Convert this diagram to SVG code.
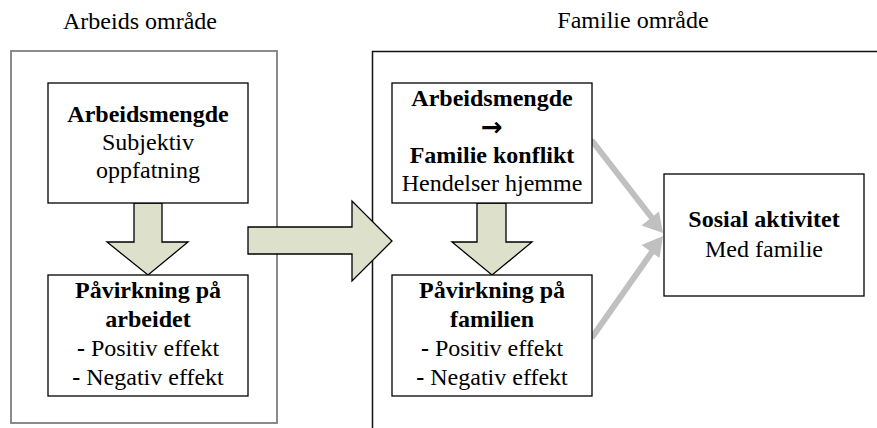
<svg xmlns="http://www.w3.org/2000/svg" width="877" height="428" viewBox="0 0 877 428">
<style>
text{font-size:24px;fill:#000;text-anchor:middle}
.b{font-weight:bold}
.arr{font-family:"DejaVu Sans",sans-serif;font-size:26px;font-weight:bold}
.box{fill:#fff;stroke:#000;stroke-width:1.3}
.blk{fill:#dde0cb;stroke:#000;stroke-width:1.3;stroke-linejoin:miter}
.conn{stroke:#c0c0c0;stroke-width:6;stroke-linecap:round;fill:none}
.head{fill:#c0c0c0}
</style>
<rect width="877" height="428" fill="#fff"/>
<g font-family="Liberation Serif, Times New Roman, DejaVu Serif, serif">
<g id="work-area">
<rect x="11" y="51" width="266" height="372" fill="none" stroke="#7f7f7f" stroke-width="1.8"/>
<text x="140" y="29">Arbeids område</text>
</g>
<g id="family-area">
<path d="M372.5 430 V51.5 H880" fill="none" stroke="#111" stroke-width="1.5"/>
<text x="633" y="28">Familie område</text>
</g>
<g id="connectors">
<polygon class="blk" points="134,203 162,203 162,242 188,242 148,275 107,242 134,242"/>
<polygon class="blk" points="477,203 506,203 506,242 532,242 492,275 452,242 477,242"/>
<polygon class="blk" points="248,227 352,227 352,201 392,241 352,281 352,254 248,254"/>
<line class="conn" x1="593" y1="142" x2="652" y2="218"/>
<polygon class="head" points="663,233 641.5,225.5 659,211.5"/>
<line class="conn" x1="593" y1="336" x2="652" y2="252"/>
<polygon class="head" points="663,236 659.5,258 641.5,245"/>
</g>
<g id="n1">
<rect class="box" x="48" y="83" width="200" height="120"/>
<text x="148" y="122" class="b">Arbeidsmengde</text>
<text x="148" y="150">Subjektiv</text>
<text x="148" y="178">oppfatning</text>
</g>
<g id="n2">
<rect class="box" x="48" y="275" width="200" height="121"/>
<text x="148" y="298" class="b">Påvirkning på</text>
<text x="148" y="327" class="b">arbeidet</text>
<text x="148" y="356"><tspan class="b">-</tspan> Positiv effekt</text>
<text x="148" y="385"><tspan class="b">-</tspan> Negativ effekt</text>
</g>
<g id="n3">
<rect class="box" x="392" y="83" width="200" height="120"/>
<text x="492" y="106" class="b">Arbeidsmengde</text>
<text x="492" y="136" class="arr">→</text>
<text x="492" y="163" class="b">Familie konflikt</text>
<text x="492" y="191">Hendelser hjemme</text>
</g>
<g id="n4">
<rect class="box" x="392" y="275" width="200" height="121"/>
<text x="492" y="298" class="b">Påvirkning på</text>
<text x="492" y="327" class="b">familien</text>
<text x="492" y="356"><tspan class="b">-</tspan> Positiv effekt</text>
<text x="492" y="385"><tspan class="b">-</tspan> Negativ effekt</text>
</g>
<g id="n5">
<rect class="box" x="664" y="174" width="200" height="122"/>
<text x="764" y="227" class="b">Sosial aktivitet</text>
<text x="764" y="257">Med familie</text>
</g>
</g>
</svg>
